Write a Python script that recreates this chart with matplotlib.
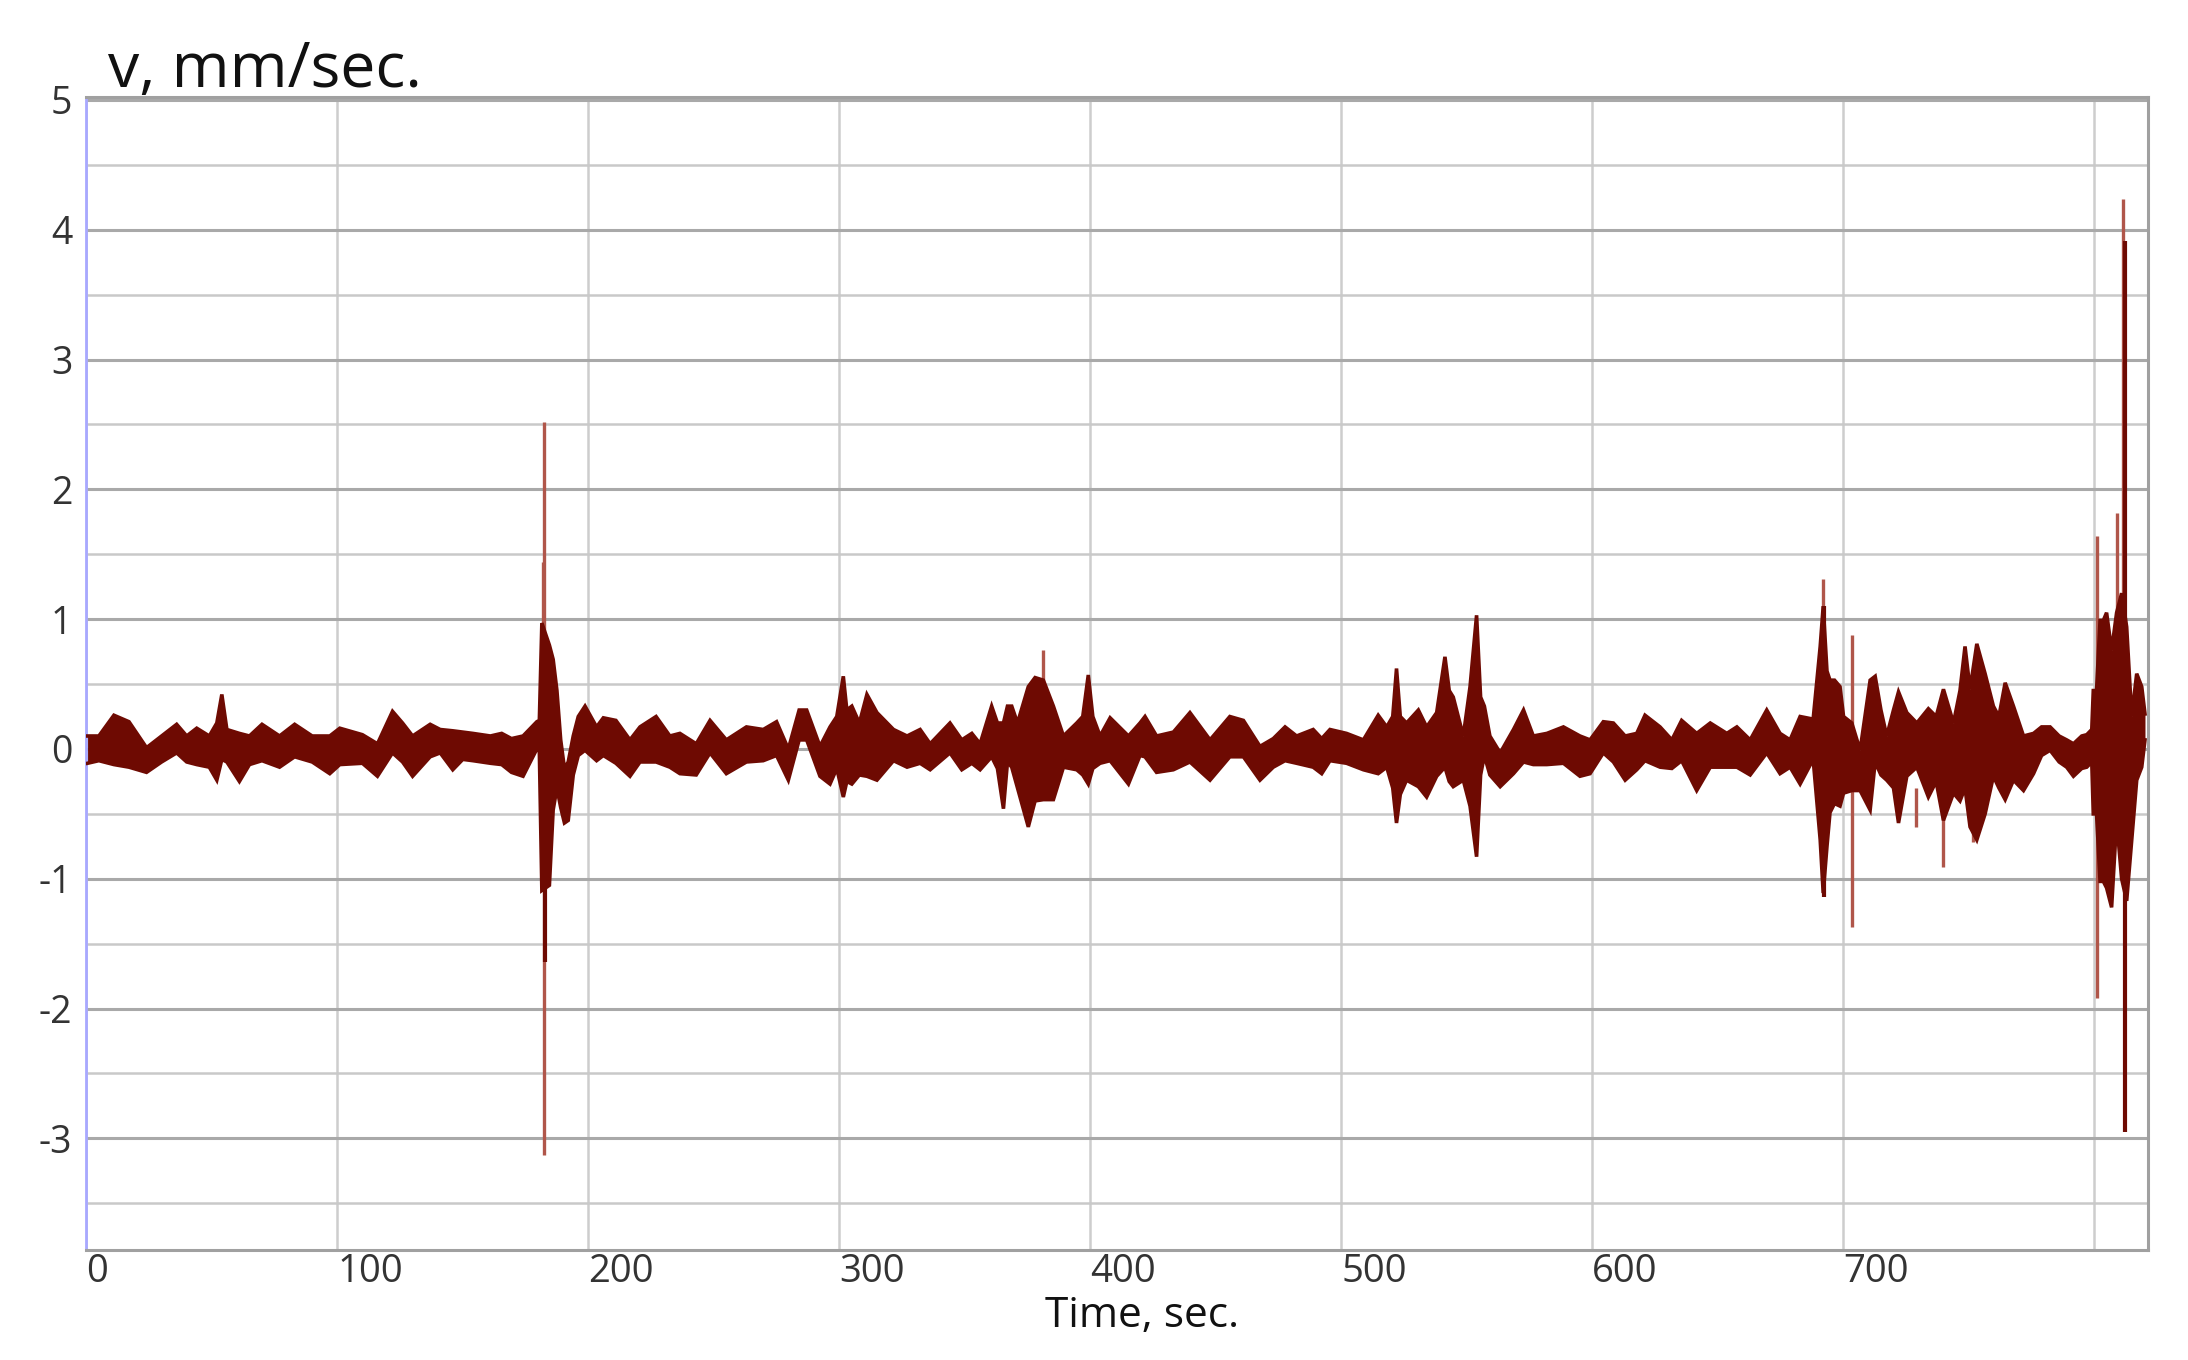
import matplotlib
matplotlib.use("Agg")
import matplotlib.pyplot as plt
import numpy as np

# ---------------- data ----------------
time_s = [0.5, 5, 11, 17, 24, 30, 36, 40, 44, 49, 52, 54, 56, 61, 65, 70, 77, 83, 90, 97, 101,
          110, 116, 122, 126, 130, 137, 141, 146, 150, 154, 161, 165.5, 169.4, 174, 179.5,
          180.5, 181.5, 184.5, 186, 187.5, 189, 190.5, 192, 194, 196, 198.7, 203.3, 206, 211,
          216.6, 220.6, 227, 232.5, 236.5, 243, 248.5, 255, 263, 269.7, 275, 279.7,
          284, 287, 292.3, 296.3, 299, 301.6, 303, 305, 308, 311, 315, 321.6, 327, 332.2,
          336.2, 344.1, 348.8, 352.8, 356.1, 360.7, 363, 365.4, 367, 368.7, 371, 375.3, 378,
          381.3, 385.3, 389.3, 394.6, 397, 399.2, 401, 403.9, 407.9, 415.2,
          419.8, 421.8, 426.4, 433.1, 439.7, 447.7, 455.6, 461, 467.6, 472.9, 477.6, 482.2,
          488.8, 492.2, 495.5, 502.1, 508.8, 514.7, 518.1, 520.5, 522, 523.5, 526, 530.7,
          534, 538, 541.3, 543, 544.6, 548.6, 551.3, 553.9, 555.5, 557, 559.2,
          563.3, 568.6, 572.6, 576.5, 581.9, 588.5, 595.1, 599.1, 604.4, 608.4, 613.1, 617.7,
          621, 627, 631.7, 635.6, 641.6, 647, 653.6, 657.6, 662.9, 669.5, 674.8, 678.8,
          682.8, 688, 690.8, 692, 693.5, 694.7, 696.5, 698.7,
          700.1, 703.4, 706.7, 710.7, 712.7, 715, 717.3, 720, 722, 725.3, 729.3, 733.9, 737,
          739.9, 743.9, 746.5, 748.5, 750.5, 753.2, 756.5, 759.8, 762, 764.5, 767.8, 771.8,
          775.8, 779, 782.4, 786, 789, 791.7, 795, 797, 799,
          799.6, 800.9, 802.3, 803.6, 804.9, 806.9, 808.9, 810.9, 812.9, 814.9, 816.9, 818.9,
          820.2]

v_upper = [.10, .10, .26, .21, .01, .10, .19, .10, .16, .10, .20, .42, .15, .12, .10, .19, .10, .19, .10, .10, .16,
           .11, .04, .29, .20, .10, .19, .15, .14, .13, .12, .10, .12, .08, .10, .21,
           .22, .97, .80, .69, .45, .07, -.15, -.10, .10, .25, .33, .17, .24, .22,
           .07, .17, .25, .10, .12, .04, .22, .07, .17, .15, .21, .00,
           .30, .30, .02, .17, .25, .56, .30, .33, .20, .42, .28, .15, .10, .15,
           .04, .20, .07, .12, .04, .33, .20, .20, .33, .33, .20, .48, .55,
           .53, .33, .10, .20, .25, .57, .25, .10, .24, .10,
           .20, .25, .10, .13, .28, .07, .25, .22, .02, .08, .17, .10,
           .15, .08, .15, .12, .07, .26, .17, .25, .62, .25, .20, .30,
           .17, .28, .71, .45, .40, .10, .48, 1.03, .40, .33, .10,
           -.03, .15, .30, .10, .12, .17, .10, .07, .21, .20, .10, .12,
           .26, .17, .07, .22, .12, .20, .12, .17, .07, .30, .12, .07,
           .25, .23, .79, 1.10, .60, .53, .53, .48,
           .25, .20, -.01, .53, .56, .30, .10, .30, .44, .28, .20, .31, .25,
           .46, .20, .45, .79, .46, .81, .58, .33, .25, .51, .33, .10,
           .12, .17, .17, .10, .07, .04, .10, .11, .15,
           .45, .45, .99, .99, 1.05, .76, 1.05, 1.20, .94, .25, .58, .48,
           .27]

v_lower = [-.11, -.09, -.12, -.14, -.18, -.10, -.03, -.10, -.12, -.14, -.24, -.08, -.10, -.25, -.12, -.09, -.14, -.06, -.10, -.19, -.12,
           -.11, -.21, -.03, -.10, -.21, -.06, -.03, -.16, -.08, -.09, -.11, -.12, -.18, -.21, .00,
           -.02, -1.09, -1.05, -.47, -.30, -.45, -.57, -.55, -.20, -.05, -.01, -.09, -.05, -.11,
           -.21, -.10, -.10, -.14, -.19, -.20, -.03, -.19, -.10, -.09, -.05, -.24,
           .07, .07, -.21, -.27, -.15, -.37, -.25, -.27, -.20, -.21, -.24, -.09, -.14, -.11,
           -.16, -.03, -.16, -.11, -.16, -.06, -.15, -.46, -.10, -.14, -.30, -.60, -.40,
           -.39, -.39, -.14, -.16, -.20, -.27, -.15, -.11, -.09, -.27,
           -.05, -.06, -.18, -.16, -.10, -.24, -.06, -.06, -.24, -.14, -.09, -.11,
           -.14, -.19, -.09, -.11, -.16, -.19, -.14, -.30, -.57, -.35, -.24, -.29,
           -.37, -.21, -.14, -.25, -.29, -.24, -.44, -.83, -.20, -.05, -.20,
           -.29, -.19, -.10, -.12, -.12, -.11, -.21, -.19, -.03, -.10, -.24, -.16,
           -.09, -.14, -.15, -.09, -.32, -.14, -.14, -.14, -.20, -.03, -.19, -.14,
           -.27, -.08, -.70, -1.11, -.75, -.49, -.42, -.44,
           -.34, -.32, -.32, -.47, -.10, -.20, -.24, -.30, -.57, -.21, -.14, -.37, -.25,
           -.55, -.34, -.40, -.30, -.60, -.70, -.50, -.21, -.30, -.39, -.24, -.32,
           -.19, -.05, -.01, -.10, -.14, -.21, -.15, -.14, -.10,
           -.50, -.50, -1.02, -1.02, -1.07, -1.22, -.55, -1.00, -1.17, -.71, -.24, -.14,
           .07]

# isolated thin spikes: time, bottom, top
light_spike_t = [182.4, 182.0, 381.3, 692.0, 703.4, 739.9, 729.0, 751.7, 801.0, 809.0, 811.6]
light_spike_lo = [-3.13, 0.97, 0.50, 1.05, -1.37, -0.91, -0.60, -0.72, -1.92, 1.00, 1.10]
light_spike_hi = [2.52, 1.44, 0.76, 1.31, 0.88, -0.40, -0.30, -0.40, 1.64, 1.82, 4.24]

dark_spike_t = [182.7, 692.3, 812.2]
dark_spike_lo = [-1.64, -1.14, -2.95]
dark_spike_hi = [-1.00, 1.10, 3.91]

y_ticks = [-3, -2, -1, 0, 1, 2, 3, 4, 5]
y_tick_labels = ["-3", "-2", "-1", "0", "1", "2", "3", "4", "5"]
x_ticks = [0, 100, 200, 300, 400, 500, 600, 700, 800]
x_tick_labels = ["0", "100", "200", "300", "400", "500", "600", "700", ""]

title_text = "v, mm/sec."
xlabel_text = "Time, sec."

# ---------------- drawing ----------------
plt.rcParams['font.family'] = ['Open Sans', 'DejaVu Sans']

W, H = 2188, 1360
fig = plt.figure(figsize=(W / 100, H / 100), dpi=100)
ax = fig.add_axes([86.3 / W, 1 - 1250 / H, (2148 - 86.3) / W, (1250 - 97.4) / H])

band = '#6e0a02'
light = '#b0564a'

ax.set_xlim(0, 821.4)
ax.set_ylim(-3.86, 5.02)

# grid
ax.set_yticks(y_ticks)
ax.set_yticks(np.arange(-3.5, 5.0, 1.0), minor=True)
ax.set_xticks(x_ticks)
ax.grid(True, axis='y', which='major', color='#a9a9a9', lw=2.2, zorder=0)
ax.grid(True, axis='y', which='minor', color='#c9c9c9', lw=1.8, zorder=0)
ax.grid(True, axis='x', which='major', color='#cdcdcd', lw=1.8, zorder=0)

ax.fill_between(time_s, v_lower, v_upper, color=band, lw=0, zorder=3)
ax.plot(time_s, v_upper, color=band, lw=2.6, zorder=3, solid_joinstyle='miter')
ax.plot(time_s, v_lower, color=band, lw=2.6, zorder=3, solid_joinstyle='miter')

ax.vlines(light_spike_t, light_spike_lo, light_spike_hi, color=light, lw=2.4, zorder=2)
ax.vlines(dark_spike_t, dark_spike_lo, dark_spike_hi, color=band, lw=3.0, zorder=4)

# ticks & labels
ax.set_yticklabels(y_tick_labels, fontsize=27, color='#333333')
ax.set_xticklabels(x_tick_labels, fontsize=27.5, color='#333333', ha='left')
ax.tick_params(axis='both', which='both', length=0)
ax.tick_params(axis='y', pad=10)
ax.tick_params(axis='x', pad=2)

for side in ['top', 'bottom', 'right']:
    ax.spines[side].set_color('#a0a0a0')
    ax.spines[side].set_linewidth(2.2)
ax.spines['left'].set_color('#a8a8ff')
ax.spines['left'].set_linewidth(2.0)

fig.text(108 / W, 1 - 87 / H, title_text, fontsize=45, color='#111111',
         ha='left', va='baseline')
fig.text(1142 / W, 1 - 1327 / H, xlabel_text, fontsize=30.5, color='#111111',
         ha='center', va='baseline')

fig.savefig('out.png', dpi=100, facecolor='white')
